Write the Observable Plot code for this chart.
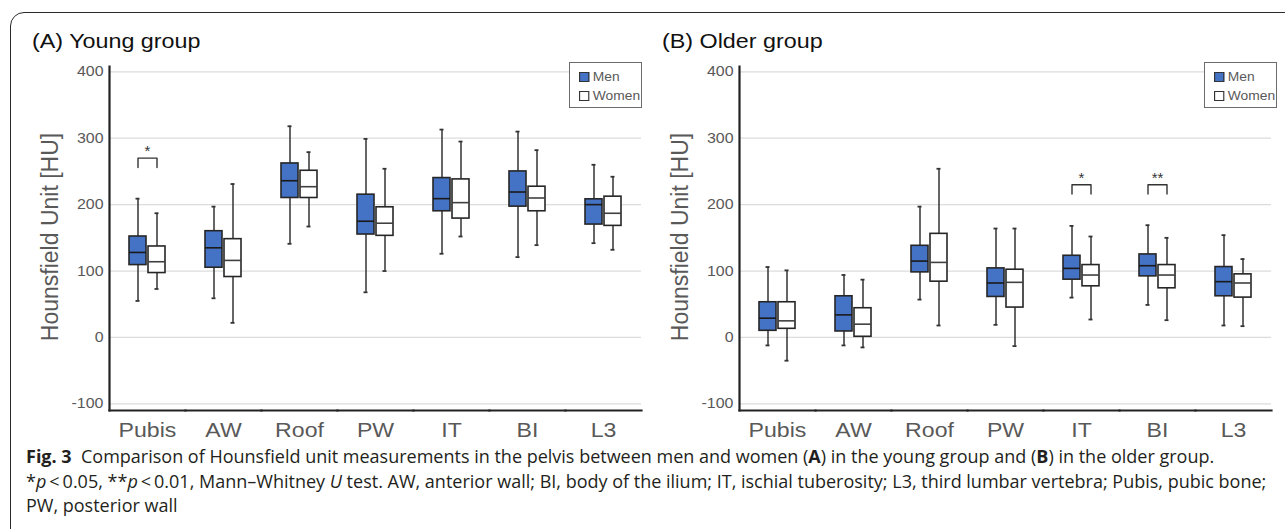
<!DOCTYPE html>
<html>
<head>
<meta charset="utf-8">
<script src="https://cdn.jsdelivr.net/npm/d3@7"></script>
<script src="https://cdn.jsdelivr.net/npm/@observablehq/plot@0.6"></script>
<style>
  html, body { margin: 0; padding: 0; background: #fff; width: 1285px; height: 529px; overflow: hidden; position: relative; }
  .frame { position: absolute; left: 10px; top: 12px; width: 1400px; height: 700px; border: 1.5px solid #2a2a2a; border-radius: 14px; }
  .title { position: absolute; font-family: "Liberation Sans", Arial, sans-serif; font-size: 21px; color: #111; line-height: 21px; white-space: nowrap; transform: scaleX(1.11); transform-origin: left center; }
  .ytitle { position: absolute; font-family: "Liberation Sans", Arial, sans-serif; font-size: 23px; color: #595959; white-space: nowrap; line-height: 23px; transform: translate(-50%, -50%) rotate(-90deg); }
  .panel { position: absolute; top: 56px; }
  .legend { position: absolute; top: 62px; width: 73px; height: 46px; border: 1px solid #6b6b6b; background: #fff; font-family: "Liberation Sans", Arial, sans-serif; font-size: 12px; color: #595959; box-sizing: border-box; }
  .legend .item { position: absolute; left: 9px; height: 14px; line-height: 14px; white-space: nowrap; transform: scaleX(1.15); transform-origin: left center; }
  .legend .sw { display: inline-block; width: 7px; height: 8px; border: 1px solid #333; vertical-align: -1px; margin-right: 3px; }
  .caption { position: absolute; left: 26px; top: 444px; font-family: "Open Sans", "Noto Sans", sans-serif; font-size: 18px; line-height: 24.5px; color: #231f20; white-space: nowrap; }
</style>
</head>
<body>
<div class="frame"></div>
<div id="root"></div>
<script>
// ---- data ----
const sites = ["Pubis", "AW", "Roof", "PW", "IT", "BI", "L3"];
const sexes = ["Men", "Women"];
const yTicks = [-100, 0, 100, 200, 300, 400];
// each row: [lower whisker, Q1, median, Q3, upper whisker] per site
const youngMen = [
  [55, 109, 128, 152, 209],
  [59, 105, 135, 160, 197],
  [141, 210, 236, 262, 318],
  [68, 155, 175, 215, 299],
  [126, 190, 209, 240, 313],
  [121, 197, 219, 250, 310],
  [142, 170, 200, 208, 260]
];
const youngWomen = [
  [73, 97, 114, 137, 187],
  [22, 91, 116, 148, 231],
  [167, 210, 227, 251, 279],
  [100, 153, 172, 196, 254],
  [152, 179, 203, 238, 295],
  [139, 190, 210, 227, 282],
  [132, 168, 187, 212, 242]
];
const olderMen = [
  [-12, 10, 29, 53, 106],
  [-12, 9, 34, 62, 94],
  [57, 98, 115, 138, 197],
  [19, 61, 82, 104, 164],
  [60, 87, 104, 123, 168],
  [49, 92, 108, 125, 169],
  [18, 62, 84, 106, 154]
];
const olderWomen = [
  [-35, 13, 25, 53, 101],
  [-15, 1, 20, 44, 87],
  [18, 84, 113, 156, 254],
  [-13, 45, 83, 102, 164],
  [27, 77, 94, 109, 152],
  [26, 74, 94, 109, 150],
  [17, 60, 82, 95, 118]
];
// significance brackets
const youngSig = [{site: "Pubis", y: 270, label: "*"}];
const olderSig = [{site: "IT", y: 230, label: "*"}, {site: "BI", y: 230, label: "**"}];
const panelTitles = ["(A) Young group", "(B) Older group"];
const yTitle = "Hounsfield Unit [HU]";
const legendLabels = ["Men", "Women"];
const colors = ["#4472c4", "#ffffff"];

const LEG = 14; // bracket leg length in HU

function stretch(svg, sel, k) {
  d3.select(svg).selectAll(sel).each(function () {
    const w = this.getComputedTextLength();
    this.setAttribute("textLength", w * k);
    this.setAttribute("lengthAdjust", "spacingAndGlyphs");
  });
}

function panel(men, women, sig, left, ml, mr) {
  const rows = [];
  sites.forEach((s, i) => {
    rows.push({site: s, sex: "Men", low: men[i][0], q1: men[i][1], med: men[i][2], q3: men[i][3], high: men[i][4]});
    rows.push({site: s, sex: "Women", low: women[i][0], q1: women[i][1], med: women[i][2], q3: women[i][3], high: women[i][4]});
  });
  const bracket = sig.flatMap(d => [
    {site: d.site, sex: "Men", y: d.y - LEG},
    {site: d.site, sex: "Men", y: d.y},
    {site: d.site, sex: "Women", y: d.y},
    {site: d.site, sex: "Women", y: d.y - LEG}
  ]);
  const svg = Plot.plot({
    width: 645,
    height: 404,
    marginLeft: ml,
    marginRight: mr,
    marginTop: 10,
    marginBottom: 50,
    style: {background: "transparent", fontFamily: "'Liberation Sans', Arial, sans-serif", overflow: "visible"},
    fx: {domain: sites, padding: 0, label: null},
    x: {domain: sexes, paddingInner: 0.086, paddingOuter: 0.972, axis: null},
    y: {domain: [-110, 408], label: null},
    color: {domain: sexes, range: colors},
    marks: [
      Plot.gridY(yTicks, {stroke: "#dcdcdc", strokeOpacity: 1, strokeWidth: 1.3}),
      Plot.axisY(yTicks, {tickSize: 0, tickPadding: 6, fontSize: 14, fill: "#595959", label: null, tickFormat: d => String(d)}),
      Plot.axisFx({anchor: "bottom", tickSize: 0, tickPadding: 12, fontSize: 21, fill: "#595959", label: null}),
      Plot.ruleX(rows, {fx: "site", x: "sex", y1: "low", y2: "high", stroke: "#333", strokeWidth: 1.5}),
      Plot.tickY(rows, {fx: "site", x: "sex", y: "low", stroke: "#333", strokeWidth: 1.8, insetLeft: 6.5, insetRight: 6.5}),
      Plot.tickY(rows, {fx: "site", x: "sex", y: "high", stroke: "#333", strokeWidth: 1.8, insetLeft: 6.5, insetRight: 6.5}),
      Plot.barY(rows, {fx: "site", x: "sex", y1: "q1", y2: "q3", fill: "sex", stroke: "#262626", strokeWidth: 1.6}),
      Plot.tickY(rows, {fx: "site", x: "sex", y: "med", stroke: d => d.sex === "Men" ? "#1a1a1a" : "#404040", strokeWidth: 1.6}),
      Plot.line(bracket, {fx: "site", x: "sex", y: "y", stroke: "#333", strokeWidth: 1.4}),
      Plot.text(sig, {fx: "site", y: "y", text: "label", dy: -7, fontSize: 15, fill: "#333", frameAnchor: "middle"}),
      Plot.frame({anchor: "bottom", stroke: "#222", strokeWidth: 2.2}),
      Plot.frame({anchor: "left", facetAnchor: "left", stroke: "#222", strokeWidth: 2.2})
    ]
  });
  const wrap = document.createElement("div");
  wrap.className = "panel";
  wrap.style.left = left + "px";
  wrap.appendChild(svg);
  document.getElementById("root").appendChild(wrap);
  stretch(svg, 'g[aria-label="fx-axis tick label"] text', 1.1);
  stretch(svg, 'g[aria-label="y-axis tick label"] text', 1.14);
}

panel(youngMen, youngWomen, youngSig, 0, 109, 4);
panel(olderMen, olderWomen, olderSig, 640, 99, 14);

// titles, y titles, legends
const root = document.getElementById("root");
[[32, panelTitles[0]], [662, panelTitles[1]]].forEach(([x, t]) => {
  const d = document.createElement("div");
  d.className = "title"; d.textContent = t;
  d.style.left = x + "px"; d.style.top = "30px";
  root.appendChild(d);
});
[50, 680].forEach(x => {
  const d = document.createElement("div");
  d.className = "ytitle"; d.textContent = yTitle;
  d.style.left = x + "px"; d.style.top = "237px";
  root.appendChild(d);
});
[569, 1204].forEach(x => {
  const lg = document.createElement("div");
  lg.className = "legend"; lg.style.left = x + "px";
  legendLabels.forEach((lab, i) => {
    const it = document.createElement("div");
    it.className = "item"; it.style.top = (7 + i * 19) + "px";
    const sw = document.createElement("span");
    sw.className = "sw"; sw.style.background = colors[i];
    it.appendChild(sw);
    it.appendChild(document.createTextNode(lab));
    lg.appendChild(it);
  });
  root.appendChild(lg);
});
</script>
<div class="caption"><b>Fig. 3</b>&nbsp; Comparison of Hounsfield unit measurements in the pelvis between men and women (<b>A</b>) in the young group and (<b>B</b>) in the older group.<br>*<i>p</i>&thinsp;&lt;&thinsp;0.05, **<i>p</i>&thinsp;&lt;&thinsp;0.01, Mann–Whitney <i>U</i> test. AW, anterior wall; BI, body of the ilium; IT, ischial tuberosity; L3, third lumbar vertebra; Pubis, pubic bone;<br>PW, posterior wall</div>
</body>
</html>
